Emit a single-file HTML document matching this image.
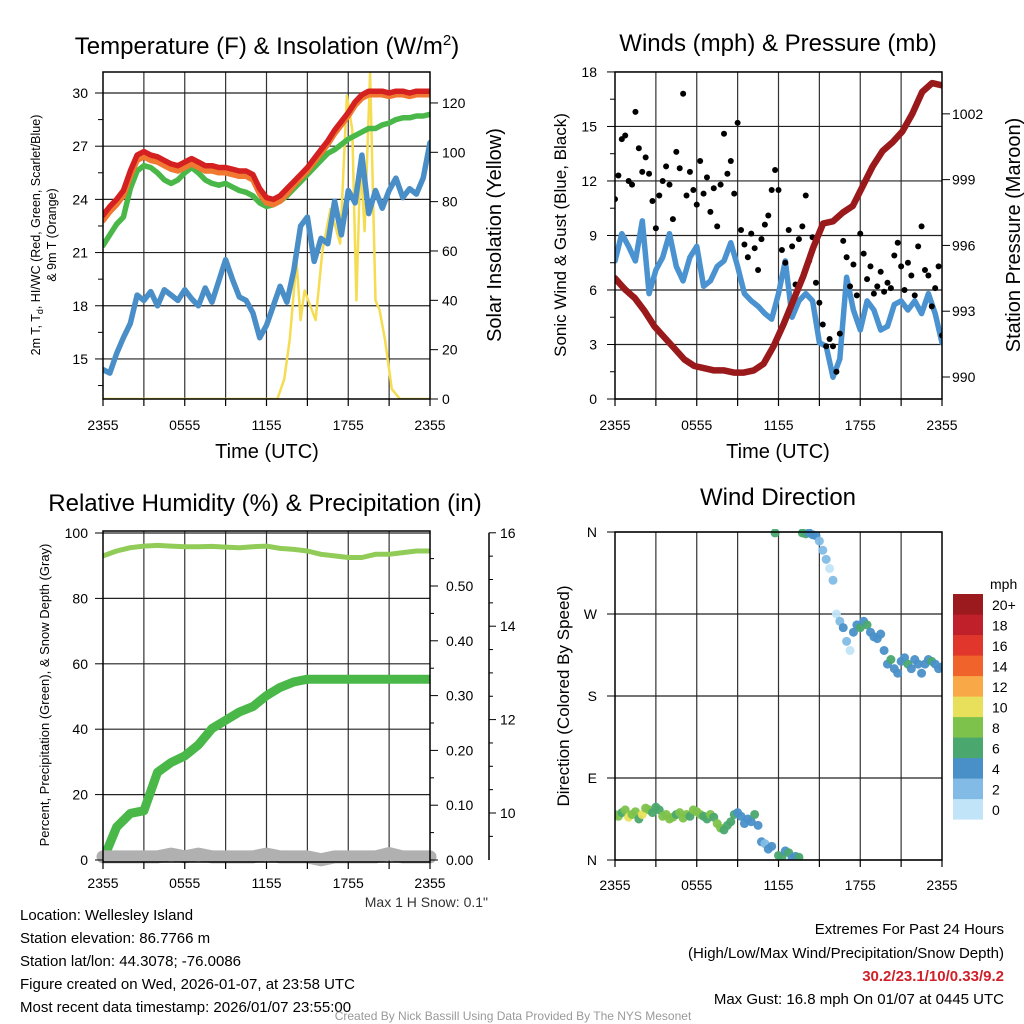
<!DOCTYPE html>
<html><head><meta charset="utf-8"><style>
html,body{margin:0;padding:0;background:#fff;}
svg{display:block;font-family:"Liberation Sans",Arial,sans-serif;}
</style></head>
<body>
<svg id="chart" width="1024" height="1024" viewBox="0 0 1024 1024" xmlns="http://www.w3.org/2000/svg">
<rect width="1024" height="1024" fill="#fff"/>
<text x="267" y="54" font-size="24" text-anchor="middle">Temperature (F) &amp; Insolation (W/m<tspan dy="-9" font-size="15">2</tspan><tspan dy="9">)</tspan></text>
<text x="778" y="51" font-size="24" text-anchor="middle">Winds (mph) &amp; Pressure (mb)</text>
<text x="265" y="511" font-size="24" text-anchor="middle">Relative Humidity (%) &amp; Precipitation (in)</text>
<text x="778" y="505" font-size="24" text-anchor="middle">Wind Direction</text>
<text x="267" y="458" font-size="20" text-anchor="middle">Time (UTC)</text>
<text x="778" y="458" font-size="20" text-anchor="middle">Time (UTC)</text>
<text transform="translate(40,235) rotate(-90)" font-size="12.5" text-anchor="middle">2m T, T<tspan dy="3" font-size="9">d</tspan><tspan dy="-3">, HI/WC (Red, Green, Scarlet/Blue)</tspan></text>
<text transform="translate(56,235) rotate(-90)" font-size="12.5" text-anchor="middle">&amp; 9m T (Orange)</text>
<text transform="translate(501,235) rotate(-90)" font-size="20" text-anchor="middle">Solar Insolation (Yellow)</text>
<text transform="translate(566,235) rotate(-90)" font-size="17" text-anchor="middle">Sonic Wind &amp; Gust (Blue, Black)</text>
<text transform="translate(1020,235) rotate(-90)" font-size="20" text-anchor="middle">Station Pressure (Maroon)</text>
<text transform="translate(49,695) rotate(-90)" font-size="13" text-anchor="middle">Percent, Precipitation (Green), &amp; Snow Depth (Gray)</text>
<text transform="translate(569,696) rotate(-90)" font-size="17" text-anchor="middle">Direction (Colored By Speed)</text>
<text x="488" y="907" font-size="14" text-anchor="end" fill="#333">Max 1 H Snow: 0.1"</text>
<g font-size="15">
<text x="20" y="920">Location: Wellesley Island</text>
<text x="20" y="943">Station elevation: 86.7766 m</text>
<text x="20" y="966">Station lat/lon: 44.3078; -76.0086</text>
<text x="20" y="989">Figure created on Wed, 2026-01-07, at 23:58 UTC</text>
<text x="20" y="1012">Most recent data timestamp: 2026/01/07 23:55:00</text>
</g>
<g font-size="15" text-anchor="end">
<text x="1004" y="934">Extremes For Past 24 Hours</text>
<text x="1004" y="958">(High/Low/Max Wind/Precipitation/Snow Depth)</text>
<text x="1004" y="981" fill="#d0202a" font-weight="bold">30.2/23.1/10/0.33/9.2</text>
<text x="1004" y="1004">Max Gust: 16.8 mph On 01/07 at 0445 UTC</text>
</g>
<text x="513" y="1020" font-size="12" fill="#999" text-anchor="middle">Created By Nick Bassill Using Data Provided By The NYS Mesonet</text>
</svg>
<script>
// ---------- DATA ----------
const timeTickLabels = ["2355","0555","1155","1755","2355"];
const tempTicks = [15,18,21,24,27,30];
const insolTicks = [0,20,40,60,80,100,120];
const windTicks = [0,3,6,9,12,15,18];
const presTicks = [990,993,996,999,1002];
const rhTicks = [0,20,40,60,80,100];
const precipTicks = ["0.00","0.10","0.20","0.30","0.40","0.50"];
const snowTicks = [10,12,14,16];
const dirLabels = ["N","E","S","W","N"];
const speedBins = ["0","2","4","6","8","10","12","14","16","18","20+"];
const speedColors = ["#c2e4f8","#82bce6","#4a90c8","#4aa86e","#7dc24b","#e8e05a","#f8a846","#f0632a","#e0362b","#c0202a","#9b1a1e"];

const tempRed = [23.1,23.6,24.0,24.5,25.6,26.5,26.7,26.5,26.4,26.2,26.0,25.9,26.1,26.3,26.1,25.9,25.9,25.8,25.8,25.7,25.6,25.6,25.4,24.6,24.1,24.0,24.2,24.6,25.0,25.4,25.8,26.3,26.8,27.3,27.9,28.4,28.9,29.5,29.9,30.1,30.1,30.1,30.0,30.1,30.1,30.0,30.1,30.1,30.1];
const temp9m = [22.8,23.3,23.7,24.2,25.3,26.2,26.4,26.2,26.1,25.9,25.7,25.6,25.8,26.0,25.8,25.6,25.6,25.5,25.5,25.4,25.3,25.3,25.1,24.3,23.8,23.7,23.9,24.3,24.8,25.2,25.6,26.1,26.6,27.1,27.7,28.2,28.7,29.3,29.7,29.9,29.9,29.9,29.8,29.9,29.9,29.8,29.9,29.9,29.9];
const dewGreen = [21.4,22.0,22.6,23.0,24.6,25.6,25.9,25.8,25.5,25.1,24.9,25.1,25.5,25.8,25.5,25.1,24.9,24.8,24.9,24.7,24.5,24.4,24.2,23.8,23.6,23.7,23.9,24.2,24.6,25.0,25.4,25.8,26.2,26.6,26.8,27.1,27.4,27.6,27.8,28.0,28.0,28.2,28.3,28.5,28.6,28.6,28.7,28.7,28.8];
const windChill = [14.4,14.2,15.3,16.2,17.0,18.6,18.3,18.8,18.0,18.9,18.6,18.3,18.9,18.4,18.0,19.0,18.2,19.4,20.6,19.5,18.5,18.3,17.6,16.2,16.9,18.0,19.1,18.2,20.0,22.5,23.0,20.5,21.8,21.5,23.9,22.0,24.5,23.8,26.5,23.2,24.5,23.5,24.5,25.2,24.1,24.6,24.3,25.2,27.2];
const insolHours = [0,12.8,13.3,13.7,14.2,14.5,14.8,15.6,16.1,16.7,17.4,17.9,18.3,18.6,18.9,19.2,19.6,20.0,20.3,20.7,21.2,21.8,24];
const insolVals = [0,0,8,24,56,32,44,32,60,77,63,123,109,40,97,68,132,40,36,24,4,0,0];

const windSpeed = [7.6,9.1,8.4,7.6,9.8,5.8,7.1,7.8,9.1,7.3,6.5,7.8,8.4,6.2,6.5,7.3,7.6,8.6,7.3,5.8,5.4,5.1,4.7,4.4,5.8,7.6,4.5,5.4,5.8,5.4,3.1,2.9,1.2,2.2,6.7,4.9,3.8,5.4,4.9,3.8,4.0,5.2,5.4,4.9,5.4,4.7,5.8,4.7,3.1];
const windGust = [11,12.3,14.3,14.5,12,11.8,15.8,13.8,12.5,13.3,12.4,10.9,9.4,11.2,12,12.8,11.8,9.9,13.6,12.7,16.8,11.2,12.5,11.5,10.7,13.1,11.3,12.2,10.3,11.6,9.5,11.8,14.6,12.4,13.1,11.3,15.2,9.3,8.5,7.8,9.1,8.3,7.1,8.8,9.6,10.1,11.5,12.6,11.5,8.2,7.5,9.3,8.4,6.3,8.8,9.5,11.2,7.6,8.9,6.4,5.3,4.1,2.9,3.3,2.9,1.5,3.6,8.7,7.8,6.2,7.4,5.7,9.1,8.0,6.6,7.3,5.8,6.2,7.0,5.9,6.4,6.1,7.9,8.6,7.3,6.0,7.5,6.8,5.7,8.4,9.5,7.1,6.8,5.1,6.1,7.3,3.5];
const pressure = [994.5,994.0,993.6,993.0,992.3,991.8,991.3,990.8,990.5,990.4,990.3,990.3,990.2,990.2,990.3,990.6,991.4,992.4,993.5,994.6,995.9,997.0,997.1,997.5,997.8,998.7,999.6,1000.3,1000.7,1001.2,1002.0,1003.0,1003.4,1003.3];

const rhVals = [93,94.5,95.5,96,96.2,96,95.8,95.8,95.9,95.7,95.5,95.8,96,95.3,95,94.5,93.5,93,92.5,92.5,93.5,93.5,94,94.5,94.5];
const precipVals = [0,0.06,0.085,0.09,0.16,0.178,0.19,0.21,0.24,0.255,0.27,0.28,0.30,0.315,0.325,0.33,0.33,0.33,0.33,0.33,0.33,0.33,0.33,0.33,0.33];
const snowVals = [9.06,9.06,9.06,9.06,9.06,9.12,9.06,9.12,9.06,9.06,9.06,9.06,9.12,9.06,9.06,9.06,9.0,9.06,9.06,9.06,9.06,9.13,9.06,9.06,9.06];

const dirVals = [50,48,52,55,47,50,53,45,50,57,55,52,58,55,48,50,45,47,50,52,46,50,48,55,53,50,48,45,50,47,40,35,33,38,42,50,52,48,40,45,42,50,38,20,18,12,15,359,5,3,10,8,2,4,3,359,358,359,357,356,350,340,330,320,307,270,262,255,240,230,250,258,255,262,258,250,245,243,248,230,215,220,210,205,218,222,215,210,220,215,205,215,220,218,215,210,212];
const dirSpeed = [8,9,6,8,10,8,9,7,10,8,9,6,7,6,8,9,8,8,7,9,8,8,7,8,9,8,7,6,8,6,8,9,7,6,7,6,5,4,4,5,4,6,4,4,3,4,4,6,7,6,5,6,4,4,6,7,6,5,4,5,3,2,2,1,2,1,2,4,3,1,4,4,6,4,7,4,4,5,4,4,4,6,4,4,4,5,6,4,4,4,4,5,4,6,4,4,4];

// ---------- HELPERS ----------
const NS = "http://www.w3.org/2000/svg";
const svg = document.getElementById('chart');
function mk(tag, attrs, parent){
  const e = document.createElementNS(NS, tag);
  for (const k in attrs) e.setAttribute(k, attrs[k]);
  (parent || svg).appendChild(e);
  return e;
}
function label(x, y, s, size, anchor, parent){
  const t = mk('text', {x:x, y:y, 'font-size':size, 'text-anchor':anchor}, parent);
  t.textContent = s;
  return t;
}
const P1 = {x0:103,x1:430,y0:72,y1:399};
const P2 = {x0:615,x1:942,y0:72,y1:399};
const P3 = {x0:103,x1:430,y0:531,y1:862};
const P4 = {x0:615,x1:942,y0:532,y1:860};
function tx(p, t){ return p.x0 + t/24*(p.x1-p.x0); }
function idxT(i, n){ return i*24/(n-1); }
const yT = v => 93 + (30-v)*17.73;
const yI = v => 399 - v*2.467;
const yW = v => 399 - v*18.17;
const yP = v => 377 - (v-990)*21.93;
const yRH = v => 860 - v*3.27;
const yPr = v => 860 - v*548;
const yS = v => 813 - (v-10)*46.7;
const yD = d => 860 - d/360*328;

function clip(p, id){
  const cp = mk('clipPath', {id:id});
  mk('rect', {x:p.x0, y:p.y0-3, width:p.x1-p.x0, height:p.y1-p.y0+3}, cp);
}
function grid(p, g, yList){
  for (let k=1;k<8;k++){ const x=tx(p,k*3); mk('line',{x1:x,x2:x,y1:p.y0,y2:p.y1,stroke:'#333','stroke-width':1.2},g); }
  yList.forEach(y=>mk('line',{x1:p.x0,x2:p.x1,y1:y,y2:y,stroke:'#222','stroke-width':1.2},g));
}
function frame(p, g){
  mk('rect',{x:p.x0,y:p.y0,width:p.x1-p.x0,height:p.y1-p.y0,fill:'none',stroke:'#000','stroke-width':1.5},g);
}
function xAxis(p, g, ly){
  for (let k=0;k<=8;k++){ const x=tx(p,k*3); mk('line',{x1:x,x2:x,y1:p.y1,y2:p.y1+7,stroke:'#000','stroke-width':1.2},g); }
  timeTickLabels.forEach((s,i)=>label(tx(p,i*6), ly, s, 14, 'middle', g));
}
function lineFrom(vals, p, yf, g, color, w, times){
  const pts = vals.map((v,i)=>{ const t = times ? times[i] : idxT(i, vals.length); return tx(p,t).toFixed(1)+','+yf(v).toFixed(1); });
  return mk('polyline',{points:pts.join(' '),fill:'none',stroke:color,'stroke-width':w,'stroke-linejoin':'round','stroke-linecap':'round'},g);
}
clip(P1,'c1'); clip(P2,'c2'); clip(P3,'c3'); clip(P4,'c4');

// ---------- PANEL 1 ----------
const g1 = mk('g',{});


grid(P1, g1, tempTicks.map(yT));
const s1 = mk('g',{'clip-path':'url(#c1)'},g1);
const ins = lineFrom(insolVals, P1, yI, s1, '#f5dc50', 2.5, insolHours);


const wc = lineFrom(windChill, P1, yT, s1, '#4a8ec8', 5.5);


const dg = lineFrom(dewGreen, P1, yT, s1, '#4ab848', 5.5);


const t9 = lineFrom(temp9m, P1, yT, s1, '#f07830', 5.5);


const tr = lineFrom(tempRed, P1, yT, s1, '#d42020', 5.5);


frame(P1, g1);
xAxis(P1, g1, 430);
tempTicks.forEach(v=>{ mk('line',{x1:P1.x0-8,x2:P1.x0,y1:yT(v),y2:yT(v),stroke:'#000'},g1); if(v<30) mk('line',{x1:P1.x0-5,x2:P1.x0,y1:yT(v+1.5),y2:yT(v+1.5),stroke:'#000'},g1); label(88, yT(v)+5, String(v), 14, 'end', g1); });
mk('line',{x1:P1.x0-5,x2:P1.x0,y1:yT(13.5),y2:yT(13.5),stroke:'#000'},g1);
insolTicks.forEach(v=>{ mk('line',{x1:P1.x1,x2:P1.x1+8,y1:yI(v),y2:yI(v),stroke:'#000'},g1); label(442, yI(v)+5, String(v), 14, 'start', g1); });

// ---------- PANEL 2 ----------
const g2 = mk('g',{});


grid(P2, g2, windTicks.map(yW));
const s2 = mk('g',{'clip-path':'url(#c2)'},g2);
const wl = lineFrom(windSpeed, P2, yW, s2, '#4a92d0', 5.5);


windGust.forEach((v,i)=>{
  const c = mk('circle',{cx:tx(P2,idxT(i,windGust.length)),cy:yW(v),r:3,fill:'#000'},s2);
  
  
});
const pl = lineFrom(pressure, P2, yP, s2, '#9a1a1c', 6.5);


frame(P2, g2);
xAxis(P2, g2, 430);
windTicks.forEach(v=>{ mk('line',{x1:P2.x0-8,x2:P2.x0,y1:yW(v),y2:yW(v),stroke:'#000'},g2); if(v<18) mk('line',{x1:P2.x0-5,x2:P2.x0,y1:yW(v+1.5),y2:yW(v+1.5),stroke:'#000'},g2); label(597, yW(v)+5, String(v), 14, 'end', g2); });
presTicks.forEach(v=>{ mk('line',{x1:P2.x1,x2:P2.x1+8,y1:yP(v),y2:yP(v),stroke:'#000'},g2); label(952, yP(v)+5, String(v), 14, 'start', g2); });

// ---------- PANEL 3 ----------
const g3 = mk('g',{});


grid(P3, g3, rhTicks.map(yRH));
const s3 = mk('g',{'clip-path':'url(#c3)'},g3);
const pr = lineFrom(precipVals, P3, yPr, s3, '#4ab848', 9);


const rh = lineFrom(rhVals, P3, yRH, s3, '#92cc58', 5);


const sn = lineFrom(snowVals, P3, yS, g3, '#b0b0b0', 13);


frame(P3, g3);
xAxis(P3, g3, 888);
rhTicks.forEach(v=>{ mk('line',{x1:P3.x0-8,x2:P3.x0,y1:yRH(v),y2:yRH(v),stroke:'#000'},g3); label(88, yRH(v)+5, String(v), 14, 'end', g3); });
precipTicks.forEach(s=>{ const v=parseFloat(s); mk('line',{x1:P3.x1,x2:P3.x1+8,y1:yPr(v),y2:yPr(v),stroke:'#000'},g3); mk('line',{x1:P3.x1,x2:P3.x1+4,y1:yPr(v+0.05),y2:yPr(v+0.05),stroke:'#000'},g3); label(446, yPr(v)+5, s, 14, 'start', g3); });
mk('line',{x1:489,x2:489,y1:yS(16),y2:860,stroke:'#000','stroke-width':1.5},g3);
snowTicks.forEach(v=>{ mk('line',{x1:489,x2:496,y1:yS(v),y2:yS(v),stroke:'#000'},g3); label(500, yS(v)+5, String(v), 14, 'start', g3); });
[9.5,10.5,11,11.5,12.5,13,13.5,14.5,15,15.5].forEach(v=>mk('line',{x1:489,x2:493,y1:yS(v),y2:yS(v),stroke:'#000'},g3));

// ---------- PANEL 4 ----------
const g4 = mk('g',{});


grid(P4, g4, [0,90,180,270,360].map(yD));
const s4 = mk('g',{'clip-path':'url(#c4)'},g4);
dirVals.forEach((d,i)=>{
  const b = Math.min(10, Math.floor(dirSpeed[i]/2));
  const c = mk('circle',{cx:tx(P4,idxT(i,dirVals.length)),cy:yD(d),r:4.5,fill:speedColors[b],'fill-opacity':0.95},s4);
  
  
});
frame(P4, g4);
xAxis(P4, g4, 890);
dirLabels.forEach((s,i)=>{ const y=yD(i*90); mk('line',{x1:P4.x0-8,x2:P4.x0,y1:y,y2:y,stroke:'#000'},g4); label(597, y+5, s, 14, 'end', g4); });

// colorbar
const cb = mk('g',{});


label(990, 589, 'mph', 14, 'start', cb);
speedBins.forEach((s,i)=>{
  const k = speedBins.length-1-i;
  const y = 594 + k*20.5;
  const r = mk('rect',{x:953,y:y,width:30,height:20.6,fill:speedColors[i]},cb);
  
  
  label(992, y+16, s, 14, 'start', cb);
});
</script>
</body></html>
